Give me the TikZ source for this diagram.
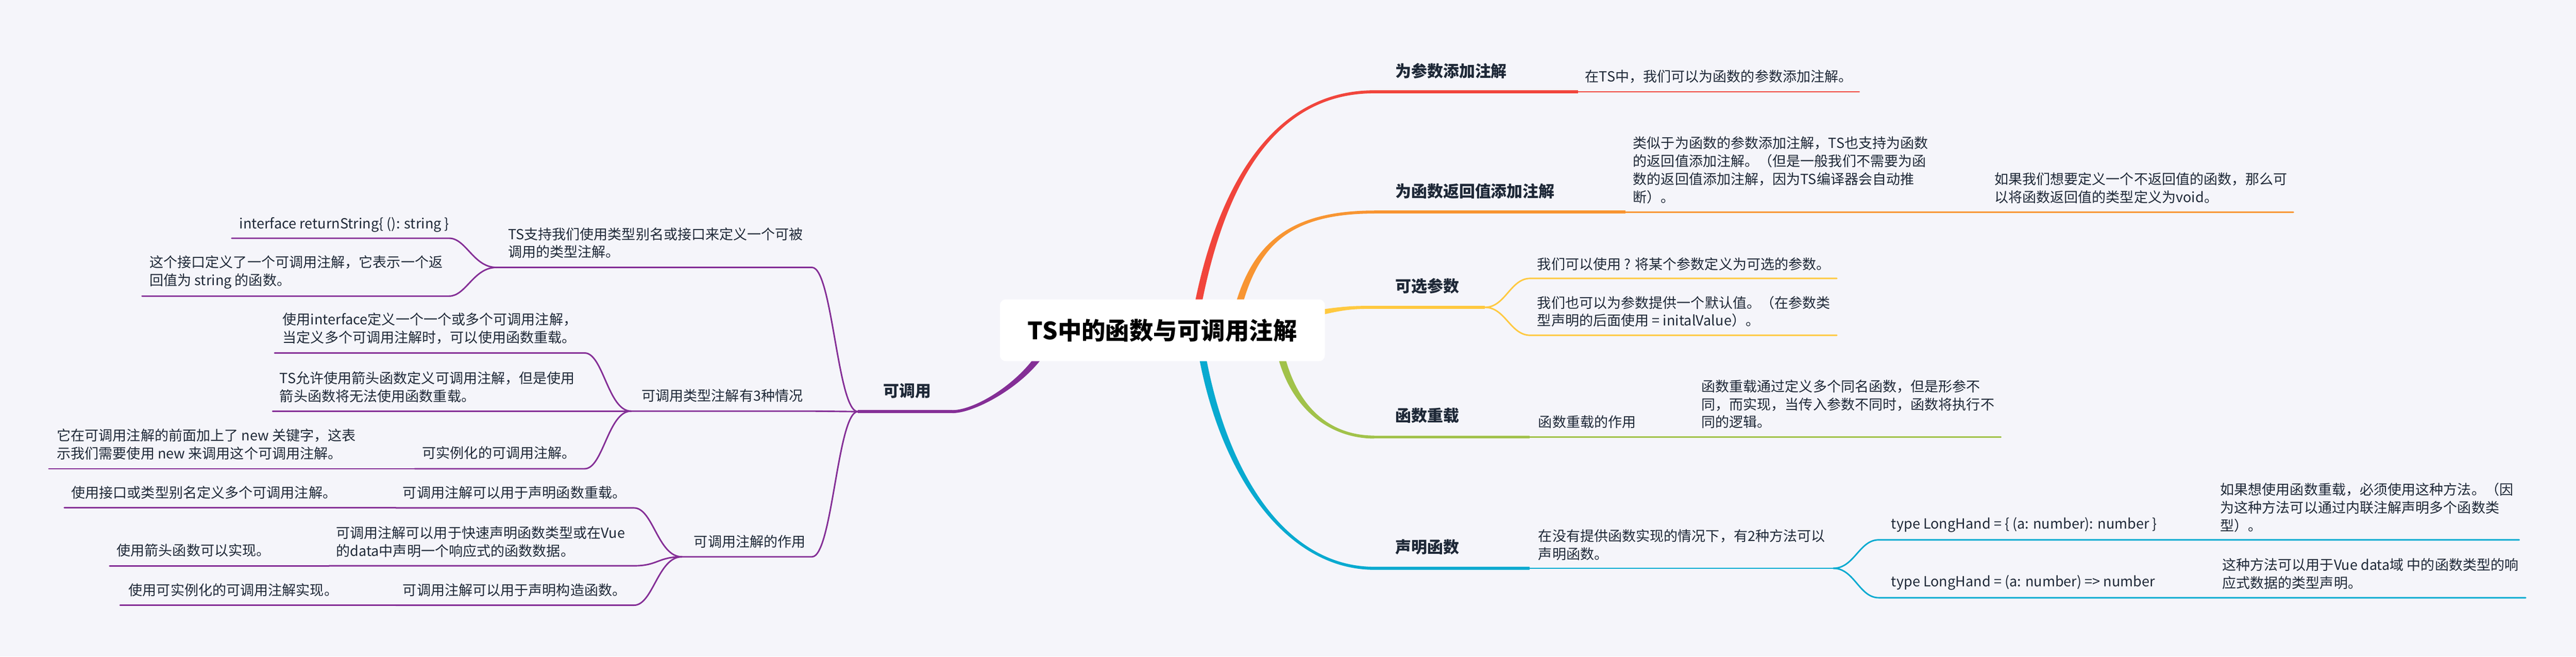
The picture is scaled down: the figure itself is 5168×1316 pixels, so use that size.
\documentclass[tikz,border=0pt]{standalone}
\usepackage{fontspec}
\setmainfont{Noto Sans CJK SC}
\definecolor{bg}{RGB}{245,245,250}
\definecolor{txt}{RGB}{30,40,55}
\definecolor{cred}{RGB}{241,69,60}
\definecolor{corange}{RGB}{248,149,50}
\definecolor{cyellow}{RGB}{255,201,64}
\definecolor{cgreen}{RGB}{161,194,74}
\definecolor{cblue}{RGB}{8,170,208}
\definecolor{cpurple}{RGB}{132,46,150}
\tikzset{
  tx/.style={inner sep=0pt, anchor=west, align=left, text=txt, font=\fontsize{28}{36}\selectfont},
  hd/.style={inner sep=0pt, anchor=west, text=txt, font=\bfseries\fontsize{32}{38}\selectfont},
  ulthick/.style={line width=6pt},
  ulthin/.style={line width=3pt, line cap=round},
  rootbox/.style={fill=white, rounded corners=12pt, minimum width=652pt, minimum height=124pt, inner sep=0pt, text=black, font=\bfseries\fontsize{48}{56}\selectfont}
}
\begin{document}
\begin{tikzpicture}[x=1pt,y=-1pt]
\fill[bg] (0,0) rectangle (5168,1316);
\useasboundingbox (0,0) rectangle (5168,1316);

% ---------- main tapered branches ----------
\fill[cred] (2404.9,641.2) .. controls (2446.9,401.2) and (2540,187) .. (2757,187) -- (2757,181) .. controls (2540,181) and (2433.1,398.8) .. (2391.1,638.8) -- cycle;
\fill[corange] (2484.8,641.6) .. controls (2516.8,501.6) and (2575,428) .. (2757,428) -- (2757,422) .. controls (2575,422) and (2503.2,498.4) .. (2471.2,638.4) -- cycle;
\fill[cyellow] (2640,634) .. controls (2700,619) and (2720,619) .. (2757,619) -- (2757,613) .. controls (2720,613) and (2700,613) .. (2640,622) -- cycle;
\fill[cgreen] (2571.9,688.7) .. controls (2596.9,818.7) and (2670,873) .. (2757,873) -- (2757,879) .. controls (2670,879) and (2583.1,821.3) .. (2558.1,691.3) -- cycle;
\fill[cblue] (2414.9,688.9) .. controls (2456.9,948.9) and (2580,1136) .. (2757,1136) -- (2757,1142) .. controls (2580,1142) and (2443.1,951.1) .. (2401.1,691.1) -- cycle;
\fill[cpurple] (2098.6,677.2) .. controls (2063.6,757.2) and (1960,822) .. (1911,822) -- (1911,828) .. controls (1960,828) and (2076.4,762.8) .. (2111.4,682.8) -- cycle;

% ---------- root ----------
\node[rootbox] (root) at (2332,662) {TS中的函数与可调用注解};

% ---------- right: 为参数添加注解 ----------
\node[hd] (h1) at (2799,142) {为参数添加注解};
\node[tx] (h1c1) at (3180,153) {在TS中，我们可以为函数的参数添加注解。};
\coordinate (h1a) at (2757,184); \coordinate (h1b) at (3166,184); \coordinate (h1e) at (3730,184);
\draw[cred, ulthick] (h1a) -- (h1b);
\draw[cred, ulthin] (h1b) -- (h1e);

% ---------- right: 为函数返回值添加注解 ----------
\node[hd] (h2) at (2799,383) {为函数返回值添加注解};
\node[tx] (h2c1) at (3276,341) {类似于为函数的参数添加注解，TS也支持为函数\\的返回值添加注解。（但是一般我们不需要为函\\数的返回值添加注解，因为TS编译器会自动推\\断）。};
\node[tx] (h2c2) at (4001,377) {如果我们想要定义一个不返回值的函数，那么可\\以将函数返回值的类型定义为void。};
\coordinate (h2a) at (2757,425); \coordinate (h2b) at (3261,425); \coordinate (h2m) at (3987,425); \coordinate (h2e) at (4601,425);
\draw[corange, ulthick] (h2a) -- (h2b);
\draw[corange, ulthin] (h2b) -- (h2m);
\draw[corange, ulthin] (h2m) -- (h2e);

% ---------- right: 可选参数 ----------
\node[hd] (h3) at (2799,573) {可选参数};
\node[tx] (h3c1) at (3084,529) {我们可以使用 ? 将某个参数定义为可选的参数。};
\node[tx] (h3c2) at (3084,624.5) {我们也可以为参数提供一个默认值。（在参数类\\型声明的后面使用 = initalValue）。};
\coordinate (h3a) at (2757,616); \coordinate (h3b) at (2979,616);
\coordinate (h3u) at (3070,558); \coordinate (h3ue) at (3685,558);
\coordinate (h3d) at (3070,672); \coordinate (h3de) at (3685,672);
\draw[cyellow, ulthick] (h3a) -- (h3b);
\draw[cyellow, ulthin] (h3b) .. controls (3020,616) and (3030,558) .. (h3u) -- (h3ue);
\draw[cyellow, ulthin] (h3b) .. controls (3020,616) and (3030,672) .. (h3d) -- (h3de);

% ---------- right: 函数重载 ----------
\node[hd] (h4) at (2799,833) {函数重载};
\node[tx] (h4c1) at (3086,846) {函数重载的作用};
\node[tx] (h4c2) at (3413,810) {函数重载通过定义多个同名函数，但是形参不\\同，而实现，当传入参数不同时，函数将执行不\\同的逻辑。};
\coordinate (h4a) at (2757,876); \coordinate (h4b) at (3069,876); \coordinate (h4m) at (3399,876); \coordinate (h4e) at (4014,876);
\draw[cgreen, ulthick] (h4a) -- (h4b);
\draw[cgreen, ulthin] (h4b) -- (h4m);
\draw[cgreen, ulthin] (h4m) -- (h4e);

% ---------- right: 声明函数 ----------
\node[hd] (h5) at (2799,1096) {声明函数};
\node[tx] (h5c1) at (3086,1092) {在没有提供函数实现的情况下，有2种方法可以\\声明函数。};
\node[tx] (h5c2) at (3794,1052) {type LongHand = \{ (a: number): number \}};
\node[tx] (h5c3) at (4454,1017) {如果想使用函数重载，必须使用这种方法。（因\\为这种方法可以通过内联注解声明多个函数类\\型）。};
\node[tx] (h5c4) at (3794,1168) {type LongHand = (a: number) => number};
\node[tx] (h5c5) at (4458,1150) {这种方法可以用于Vue data域 中的函数类型的响\\应式数据的类型声明。};
\coordinate (h5a) at (2757,1139); \coordinate (h5b) at (3069,1139); \coordinate (h5j) at (3678,1139);
\coordinate (h5u) at (3769,1082); \coordinate (h5um) at (4440,1082); \coordinate (h5ue) at (5054,1082);
\coordinate (h5d) at (3769,1198); \coordinate (h5dm) at (4444,1198); \coordinate (h5de) at (5067,1198);
\draw[cblue, ulthick] (h5a) -- (h5b);
\draw[cblue, ulthin] (h5b) -- (h5j);
\draw[cblue, ulthin] (h5j) .. controls (3720,1139) and (3730,1082) .. (h5u) -- (h5um) -- (h5ue);
\draw[cblue, ulthin] (h5j) .. controls (3720,1139) and (3730,1198) .. (h5d) -- (h5dm) -- (h5de);

% ---------- left: 可调用 ----------
\node[hd] (L) at (1772,783) {可调用};
\coordinate (La) at (1911,825); \coordinate (J) at (1721,825);
\draw[cpurple, ulthick] (La) -- (J);

% TS支持...
\node[tx] (L1) at (1019,487) {TS支持我们使用类型别名或接口来定义一个可被\\调用的类型注解。};
\coordinate (L1e) at (1629,536); \coordinate (L1s) at (996,536);
\draw[cpurple, ulthin] (J) .. controls (1680,825) and (1670,536) .. (L1e) -- (L1s);
\node[tx] (L11) at (480,450) {interface returnString\{ (): string \}};
\coordinate (L11e) at (901,477.5); \coordinate (L11s) at (465,477.5);
\draw[cpurple, ulthin] (L1s) .. controls (950,536) and (935,477.5) .. (L11e) -- (L11s);
\node[tx] (L12) at (300,546) {这个接口定义了一个可调用注解，它表示一个返\\回值为 string 的函数。};
\coordinate (L12e) at (901,593.5); \coordinate (L12s) at (285,593.5);
\draw[cpurple, ulthin] (L1s) .. controls (950,536) and (935,593.5) .. (L12e) -- (L12s);

% 可调用类型注解有3种情况
\node[tx] (L2) at (1287,793) {可调用类型注解有3种情况};
\coordinate (L2e) at (1629,824); \coordinate (L2s) at (1266,824);
\draw[cpurple, ulthin] (J) -- (L2e) -- (L2s);
\node[tx] (L21) at (567,658.5) {使用interface定义一个一个或多个可调用注解，\\当定义多个可调用注解时，可以使用函数重载。};
\coordinate (L21e) at (1173,707.5); \coordinate (L21s) at (551,707.5);
\draw[cpurple, ulthin] (L2s) .. controls (1220,824) and (1210,707.5) .. (L21e) -- (L21s);
\node[tx] (L22) at (561,775.5) {TS允许使用箭头函数定义可调用注解，但是使用\\箭头函数将无法使用函数重载。};
\coordinate (L22s) at (547,824);
\draw[cpurple, ulthin] (L2s) -- (L22s);
\node[tx] (L23) at (847,908) {可实例化的可调用注解。};
\coordinate (L23e) at (1173,939.5); \coordinate (L23s) at (832,939.5);
\draw[cpurple, ulthin] (L2s) .. controls (1220,824) and (1210,939.5) .. (L23e) -- (L23s);
\node[tx] (L231) at (114,890.5) {它在可调用注解的前面加上了 new 关键字，这表\\示我们需要使用 new 来调用这个可调用注解。};
\coordinate (L231s) at (98,939.5);
\draw[cpurple, ulthin] (L23s) -- (L231s);

% 可调用注解的作用
\node[tx] (L3) at (1392,1085) {可调用注解的作用};
\coordinate (L3e) at (1629,1116); \coordinate (L3s) at (1368,1116);
\draw[cpurple, ulthin] (J) .. controls (1680,825) and (1670,1116) .. (L3e) -- (L3s);
\node[tx] (L31) at (808,987) {可调用注解可以用于声明函数重载。};
\coordinate (L31e) at (1272,1018); \coordinate (L31s) at (794,1018);
\draw[cpurple, ulthin] (L3s) .. controls (1320,1116) and (1310,1018) .. (L31e) -- (L31s);
\node[tx] (L311) at (143,987) {使用接口或类型别名定义多个可调用注解。};
\coordinate (L311s) at (129,1018);
\draw[cpurple, ulthin] (L31s) -- (L311s);
\node[tx] (L32) at (674,1086) {可调用注解可以用于快速声明函数类型或在Vue\\的data中声明一个响应式的函数数据。};
\coordinate (L32e) at (1272,1134); \coordinate (L32s) at (660,1134);
\draw[cpurple, ulthin] (L3s) .. controls (1320,1116) and (1320,1134) .. (L32e) -- (L32s);
\node[tx] (L321) at (234,1103) {使用箭头函数可以实现。};
\coordinate (L321s) at (220,1134);
\draw[cpurple, ulthin] (L32s) -- (L321s);
\node[tx] (L33) at (808,1183) {可调用注解可以用于声明构造函数。};
\coordinate (L33e) at (1272,1213); \coordinate (L33s) at (794,1213);
\draw[cpurple, ulthin] (L3s) .. controls (1320,1116) and (1310,1213) .. (L33e) -- (L33s);
\node[tx] (L331) at (258,1183) {使用可实例化的可调用注解实现。};
\coordinate (L331s) at (241,1213);
\draw[cpurple, ulthin] (L33s) -- (L331s);
\end{tikzpicture}
\end{document}
